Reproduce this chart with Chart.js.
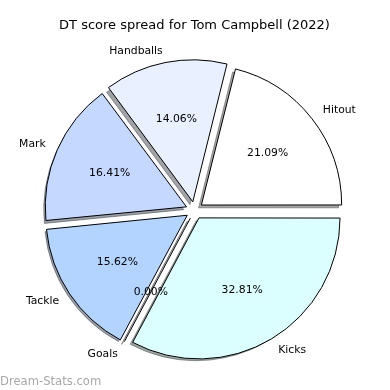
<!DOCTYPE html>
<html>
<head>
<meta charset="utf-8">
<script src="https://cdn.jsdelivr.net/npm/chart.js@4"></script>
<style>
  html, body { margin: 0; padding: 0; background: #fff; }
  #wrap { width: 390px; height: 390px; position: relative; }
</style>
</head>
<body>
<div id="wrap"><canvas id="pieChart"></canvas></div>
<script>
// DT points by stat, clockwise from 3 o'clock
var categories = ['Kicks', 'Goals', 'Tackle', 'Mark', 'Handballs', 'Hitout'];
var points = [42, 0, 20, 21, 18, 27];
var sliceColors = ['#dbffff', '#d0e4ff', '#b3d4ff', '#c5d8ff', '#e9f0ff', '#ffffff'];

var FONT = "'DejaVu Sans', sans-serif";

// python style %1.2f (round half to even)
function pct(v, total) {
    var n = v / total * 10000;
    var f = Math.floor(n);
    var r;
    if (Math.abs(n - f - 0.5) < 1e-9) r = (f % 2 === 0) ? f : f + 1;
    else r = Math.round(n);
    return (r / 100).toFixed(2) + '%';
}

function shadeOf(hex) {
    var c = parseInt(hex.slice(1), 16);
    var r = Math.round(((c >> 16) & 255) * 0.3);
    var g = Math.round(((c >> 8) & 255) * 0.3);
    var b = Math.round((c & 255) * 0.3);
    return 'rgba(' + r + ',' + g + ',' + b + ',0.5)';
}

var pieExtras = {
    id: 'pieExtras',
    beforeDatasetsDraw: function(chart) {
        // shadow copies under each wedge
        var ctx = chart.ctx;
        var arcs = chart.getDatasetMeta(0).data;
        ctx.save();
        ctx.translate(-2.8, 2.8);
        arcs.forEach(function(arc, i) {
            var mid = (arc.startAngle + arc.endAngle) / 2;
            var off = arc.options.offset / 4;
            var cx = arc.x + Math.cos(mid) * off;
            var cy = arc.y + Math.sin(mid) * off;
            ctx.fillStyle = shadeOf(sliceColors[i]);
            ctx.strokeStyle = shadeOf(sliceColors[i]);
            ctx.lineWidth = 1;
            ctx.beginPath();
            ctx.moveTo(cx, cy);
            ctx.arc(cx, cy, arc.outerRadius, arc.startAngle, arc.endAngle);
            ctx.closePath();
            ctx.fill();
            ctx.stroke();
        });
        ctx.restore();
    },
    afterDatasetsDraw: function(chart) {
        var ctx = chart.ctx;
        var arcs = chart.getDatasetMeta(0).data;
        var total = points.reduce(function(a, b) { return a + b; }, 0);
        ctx.save();
        arcs.forEach(function(arc, i) {
            var mid = (arc.startAngle + arc.endAngle) / 2;
            var off = arc.options.offset / 4;
            var cx = arc.x + Math.cos(mid) * off;
            var cy = arc.y + Math.sin(mid) * off;
            var r = arc.outerRadius;
            if (points[i] === 0) {
                // empty wedge still gets its outline
                ctx.strokeStyle = '#000';
                ctx.lineWidth = 1;
                ctx.beginPath();
                ctx.moveTo(cx, cy);
                ctx.lineTo(cx + Math.cos(mid) * r, cy + Math.sin(mid) * r);
                ctx.stroke();
            }
            ctx.fillStyle = '#000';
            ctx.font = '10.8px ' + FONT;
            ctx.textBaseline = 'middle';
            ctx.textAlign = Math.cos(mid) > 0 ? 'left' : 'right';
            ctx.fillText(categories[i], cx + Math.cos(mid) * r * 1.1, cy + Math.sin(mid) * r * 1.1);
            ctx.textAlign = 'center';
            ctx.fillText(pct(points[i], total), cx + Math.cos(mid) * r * 0.6, cy + Math.sin(mid) * r * 0.6);
        });
        // watermark
        ctx.fillStyle = '#a8a8a8';
        ctx.font = '11.6px ' + FONT;
        ctx.textAlign = 'left';
        ctx.textBaseline = 'alphabetic';
        ctx.fillText('Dream-Stats.com', 0, 385);
        ctx.restore();
    }
};

var ctx = document.getElementById('pieChart').getContext('2d');
var myChart = new Chart(ctx, {
    type: 'pie',
    data: {
        labels: categories,
        datasets: [{
            data: points,
            backgroundColor: sliceColors,
            borderColor: '#000',
            borderWidth: 1,
            offset: 35,
            borderJoinStyle: 'miter'
        }]
    },
    options: {
        responsive: true,
        maintainAspectRatio: false,
        animation: false,
        rotation: 90,
        radius: 140,
        layout: { padding: { left: 0, right: 1, top: 0, bottom: 2.8 } },
        plugins: {
            legend: { display: false },
            tooltip: { enabled: false },
            title: {
                display: true,
                text: 'DT score spread for Tom Campbell (2022)',
                color: '#000',
                font: { family: FONT, size: 13, weight: 'normal', lineHeight: 1.2 },
                padding: { top: 18, bottom: 0 }
            }
        }
    },
    plugins: [pieExtras]
});
</script>
</body>
</html>
